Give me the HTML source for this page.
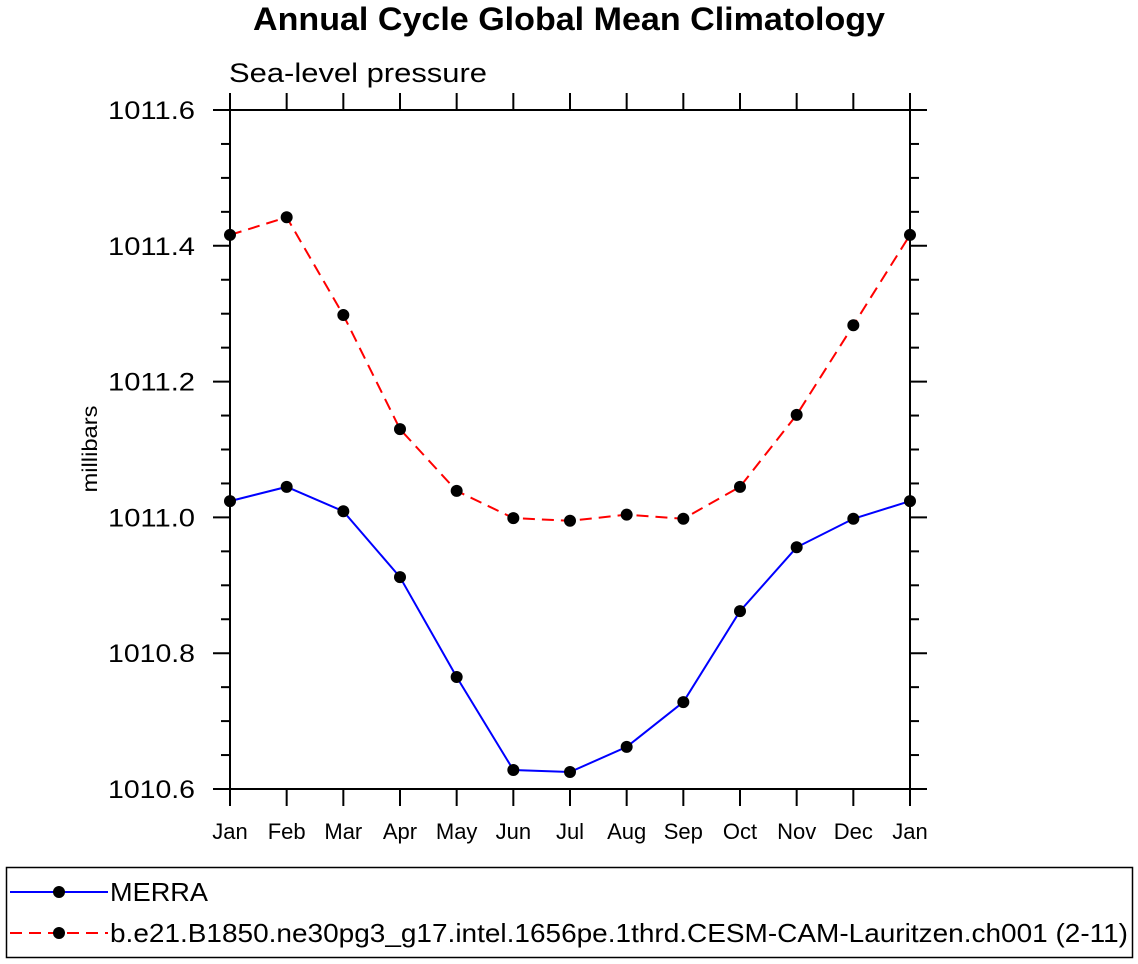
<!DOCTYPE html>
<html><head><meta charset="utf-8"><style>
body{margin:0;background:#fff;}
svg{display:block;font-family:"Liberation Sans",sans-serif;}
</style></head><body>
<svg id="c" width="1138" height="964" viewBox="0 0 1138 964">
<text x="253" y="30" font-size="32" font-weight="bold" textLength="632" lengthAdjust="spacingAndGlyphs">Annual Cycle Global Mean Climatology</text>
<text x="229" y="82" font-size="27" textLength="258" lengthAdjust="spacingAndGlyphs">Sea-level pressure</text>
<text transform="translate(97,449) rotate(-90)" text-anchor="middle" font-size="21" textLength="87" lengthAdjust="spacingAndGlyphs">millibars</text>
<g id="axes"></g>
<g id="series"></g>
<rect x="6.5" y="867.5" width="1126" height="90" fill="none" stroke="#000" stroke-width="1.5"/>
<g>
<line x1="10" y1="892" x2="108" y2="892" stroke="#00f" stroke-width="2"/>
<circle cx="59" cy="892" r="6" fill="#000"/>
<text x="110" y="901" font-size="26" textLength="98" lengthAdjust="spacingAndGlyphs">MERRA</text>
</g>
<g>
<line x1="10" y1="933" x2="108" y2="933" stroke="#f00" stroke-width="2" stroke-dasharray="12,7"/>
<circle cx="59" cy="933" r="6" fill="#000"/>
<text x="110" y="942" font-size="26" textLength="1018" lengthAdjust="spacingAndGlyphs">b.e21.B1850.ne30pg3_g17.intel.1656pe.1thrd.CESM-CAM-Lauritzen.ch001 (2-11)</text>
</g>
</svg>
<script>
const months=["Jan","Feb","Mar","Apr","May","Jun","Jul","Aug","Sep","Oct","Nov","Dec","Jan"];
const merra=[1011.024,1011.045,1011.009,1010.912,1010.765,1010.628,1010.625,1010.662,1010.728,1010.862,1010.956,1010.998,1011.024];
const cesm=[1011.416,1011.442,1011.298,1011.130,1011.039,1010.999,1010.995,1011.004,1010.998,1011.045,1011.151,1011.283,1011.416];
const yTicks=[1010.6,1010.8,1011.0,1011.2,1011.4,1011.6];
const yMin=1010.6,yMax=1011.6;
const X0=230,X1=910,Y0=789,Y1=110;
const xs=i=>X0+(X1-X0)*i/(months.length-1);
const ys=v=>Y0-(v-yMin)/(yMax-yMin)*(Y0-Y1);
const NS="http://www.w3.org/2000/svg";
function mk(tag,attrs,parent){const e=document.createElementNS(NS,tag);for(const k in attrs)e.setAttribute(k,attrs[k]);parent.appendChild(e);return e;}
const ax=document.getElementById('axes');
const frame=mk('rect',{x:X0,y:Y1,width:X1-X0,height:Y0-Y1,fill:'none',stroke:'#000','stroke-width':2},ax);


months.forEach((m,i)=>{
  const x=xs(i);
  mk('line',{x1:x,y1:Y0,x2:x,y2:Y0+17,stroke:'#000','stroke-width':2},ax);
  mk('line',{x1:x,y1:Y1,x2:x,y2:Y1-17,stroke:'#000','stroke-width':2},ax);
  const t=mk('text',{x:x,y:Y0+50,'text-anchor':'middle','font-size':22},ax);
  t.textContent=m;
  
  
});
for(let v=yMin;v<=yMax+1e-9;v+=0.05){
  const y=ys(v);
  const major=Math.abs(Math.round(v*5)-v*5)<1e-6;
  const L=major?17:9;
  mk('line',{x1:X0,y1:y,x2:X0-L,y2:y,stroke:'#000','stroke-width':2},ax);
  mk('line',{x1:X1,y1:y,x2:X1+L,y2:y,stroke:'#000','stroke-width':2},ax);
}
yTicks.forEach(v=>{
  const t=mk('text',{x:108,y:ys(v)+9,'font-size':25,textLength:87,lengthAdjust:'spacingAndGlyphs'},ax);
  t.textContent=v.toFixed(1);
  
  
});
const sg=document.getElementById('series');
function draw(vals,color,dash,name){
  const g=mk('g',{},sg);
  
  
  const pts=vals.map((v,i)=>xs(i)+','+ys(v)).join(' ');
  const a={points:pts,fill:'none',stroke:color,'stroke-width':2};
  if(dash)a['stroke-dasharray']=dash;
  mk('polyline',a,g);
  vals.forEach((v,i)=>{
    const c=mk('circle',{cx:xs(i),cy:ys(v),r:6,fill:'#000'},g);
    
    
  });
}
draw(merra,'#00f',null,'merra-series');
draw(cesm,'#f00','12,7','cesm-series');
</script>
</body></html>
